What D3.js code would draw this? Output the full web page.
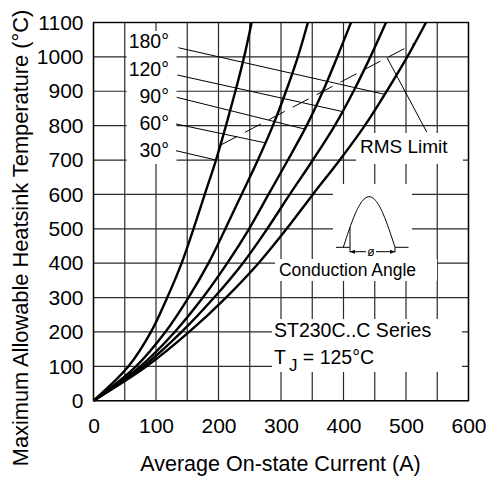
<!DOCTYPE html>
<html>
<head>
<meta charset="utf-8">
<script src="https://cdn.jsdelivr.net/npm/d3@7"></script>
<style>
  body { margin: 0; background: #fff; }
  svg { display: block; font-family: "Liberation Sans", Arial, sans-serif; }
</style>
</head>
<body>
<svg id="chart" width="498" height="481"></svg>
<script>
// temperature levels (y) and the current (x) each curve reaches at them
const temps = [0, 100, 200, 300, 400, 500, 600, 700, 800, 900, 1000, 1100];
const angles = ["30°", "60°", "90°", "120°", "180°"];
const current30 = [0, 56, 92, 118, 141, 160, 178, 196, 212, 227, 241, 253];
const current60 = [0, 68, 115, 152, 184, 211, 237, 263, 287, 308, 327, 343];
const current90 = [0, 75, 130, 175, 214, 249, 280, 311, 341, 367, 390, 412];
const current120 = [0, 80, 141, 193, 239, 278, 314, 351, 386, 416, 443, 468];
const current180 = [0, 85, 153, 212, 264, 309, 351, 394, 434, 469, 502, 532];
const series = [current30, current60, current90, current120, current180];

// temperature where each angle label's leader line meets its curve
const leaderTemps = [700, 750, 790, 841, 891];
// RMS limit line (current, temperature)
const rmsLimit = [[204, 744], [514, 1040]];

const xTicks = [0, 100, 200, 300, 400, 500, 600];
const yTicks = [0, 100, 200, 300, 400, 500, 600, 700, 800, 900, 1000, 1100];
const xGrid = [0, 50, 100, 150, 200, 250, 300, 350, 400, 450, 500, 550, 600];

const svg = d3.select("#chart");
const x = d3.scaleLinear().domain([0, 600]).range([93.5, 468.5]);
const y = d3.scaleLinear().domain([0, 1100]).range([400.7, 22.5]);

// grid
const grid = svg.append("g").attr("stroke", "#2a2a2a").attr("stroke-width", 1.2);
grid.selectAll(".vg").data(xGrid).enter().append("line")
  .attr("x1", d => x(d)).attr("x2", d => x(d))
  .attr("y1", y(0)).attr("y2", y(1100));
grid.selectAll(".hg").data(yTicks).enter().append("line")
  .attr("x1", x(0)).attr("x2", x(600))
  .attr("y1", d => y(d)).attr("y2", d => y(d));

// white boxes behind annotations
const boxes = [
  [126.5, 31, 50, 133],   // angle labels
  [356, 133, 107, 31],    // RMS Limit
  [333, 184, 79, 76],     // conduction angle sketch
  [275, 259, 162, 22],    // Conduction Angle text
  [272, 319, 190, 53]     // series / Tj
];
svg.append("g").selectAll("rect").data(boxes).enter().append("rect")
  .attr("x", d => d[0]).attr("y", d => d[1])
  .attr("width", d => d[2]).attr("height", d => d[3])
  .attr("fill", "#fff");

// frame
svg.append("rect")
  .attr("x", x(0)).attr("y", y(1100))
  .attr("width", x(600) - x(0)).attr("height", y(0) - y(1100))
  .attr("fill", "none").attr("stroke", "#000").attr("stroke-width", 1.4);

// curves
const line = d3.line().x(d => x(d[0])).y(d => y(d[1])).curve(d3.curveCatmullRom.alpha(0.5));
svg.append("g").selectAll("path").data(series).enter().append("path")
  .attr("d", s => line(s.map((c, i) => [c, temps[i]])))
  .attr("fill", "none").attr("stroke", "#000").attr("stroke-width", 2.4);

function currentAt(s, t) {
  const i = d3.bisectRight(temps, t) - 1;
  const f = (t - temps[i]) / (temps[i + 1] - temps[i]);
  return s[i] + f * (s[i + 1] - s[i]);
}

// angle labels with leaders
const labelPos = [[169, 157.3, 176, 150.7], [169, 130, 176, 124], [169, 102.7, 176.7, 97.3],
                  [169, 75.7, 177.3, 75], [169, 48.3, 178.3, 47.7]];
const lab = svg.append("g");
angles.forEach((a, i) => {
  const p = labelPos[i];
  lab.append("text").attr("x", p[0]).attr("y", p[1]).attr("text-anchor", "end")
    .attr("font-size", 19.5).text(a);
  lab.append("line").attr("x1", p[2]).attr("y1", p[3])
    .attr("x2", x(currentAt(series[i], leaderTemps[i]))).attr("y2", y(leaderTemps[i]))
    .attr("stroke", "#000").attr("stroke-width", 1);
});

// RMS limit
svg.append("line")
  .attr("x1", x(rmsLimit[0][0])).attr("y1", y(rmsLimit[0][1]))
  .attr("x2", x(rmsLimit[1][0])).attr("y2", y(rmsLimit[1][1]))
  .attr("stroke", "#000").attr("stroke-width", 1).attr("stroke-dasharray", "18,9");
const rmsEnd = d3.interpolateArray(rmsLimit[0], rmsLimit[1])(0.857);
svg.append("line").attr("x1", 426.7).attr("y1", 132)
  .attr("x2", x(rmsEnd[0])).attr("y2", y(rmsEnd[1]))
  .attr("stroke", "#000").attr("stroke-width", 1);
svg.append("text").attr("x", 360).attr("y", 153.3).attr("font-size", 19).text("RMS Limit");

// conduction angle sketch
const sk = svg.append("g").attr("fill", "none").attr("stroke", "#000").attr("stroke-width", 1);
const x0 = 343.3, x1 = 395, base = 247.3, h = 50.6;
const sine = d3.range(0, 1.0001, 0.02).map(f => [x0 + f * (x1 - x0), base - h * Math.sin(Math.PI * f)]);
sk.append("path").attr("d", d3.line()(sine));
sk.append("line").attr("x1", 350).attr("x2", 350).attr("y1", base - h * Math.sin(Math.PI * (350 - x0) / (x1 - x0))).attr("y2", base + 5);
sk.append("line").attr("x1", 336).attr("x2", 350).attr("y1", base).attr("y2", base);
sk.append("line").attr("x1", 395).attr("x2", 408.5).attr("y1", base).attr("y2", base);
sk.append("line").attr("x1", x1).attr("x2", x1).attr("y1", base).attr("y2", base + 5);
sk.append("line").attr("x1", 350).attr("x2", 366).attr("y1", base + 4.4).attr("y2", base + 4.4);
sk.append("line").attr("x1", 376).attr("x2", 395).attr("y1", base + 4.4).attr("y2", base + 4.4);
svg.append("path").attr("d", `M350,${base + 4.4}l5,-2l0,4z M395,${base + 4.4}l-5,-2l0,4z`).attr("fill", "#000");
svg.append("text").attr("x", 371).attr("y", base + 8.5).attr("text-anchor", "middle")
  .attr("font-size", 12).text("ø");
svg.append("text").attr("x", 347.5).attr("y", 276).attr("text-anchor", "middle")
  .attr("font-size", 17.5).text("Conduction Angle");

// series text
svg.append("text").attr("x", 274).attr("y", 336.7).attr("font-size", 19.5).text("ST230C..C Series");
const tj = svg.append("text").attr("x", 274).attr("y", 364).attr("font-size", 19.5);
tj.append("tspan").text("T");
tj.append("tspan").attr("dx", 3).attr("dy", 7).attr("font-size", 17).text("J");
tj.append("tspan").attr("dy", -7).text(" = 125°C");

// axes labels
const xAxis = svg.append("g").attr("transform", `translate(0,${y(0)})`)
  .call(d3.axisBottom(x).tickValues(xTicks).tickFormat(d3.format("d")).tickSize(0).tickPadding(17));
const yAxis = svg.append("g").attr("transform", `translate(${x(0)},0)`)
  .call(d3.axisLeft(y).tickValues(yTicks).tickFormat(d3.format("d")).tickSize(0).tickPadding(10));
[xAxis, yAxis].forEach(a => {
  a.select(".domain").remove();
  a.selectAll("text").attr("font-size", 21).attr("font-family", "Liberation Sans, Arial, sans-serif").attr("fill", "#000");
});

svg.append("text").attr("x", 280.5).attr("y", 471).attr("text-anchor", "middle")
  .attr("font-size", 21.5).text("Average On-state Current (A)");
svg.append("text").attr("transform", "translate(28,238) rotate(-90)").attr("text-anchor", "middle")
  .attr("font-size", 21.8).text("Maximum Allowable Heatsink Temperature (°C)");
</script>
</body>
</html>
